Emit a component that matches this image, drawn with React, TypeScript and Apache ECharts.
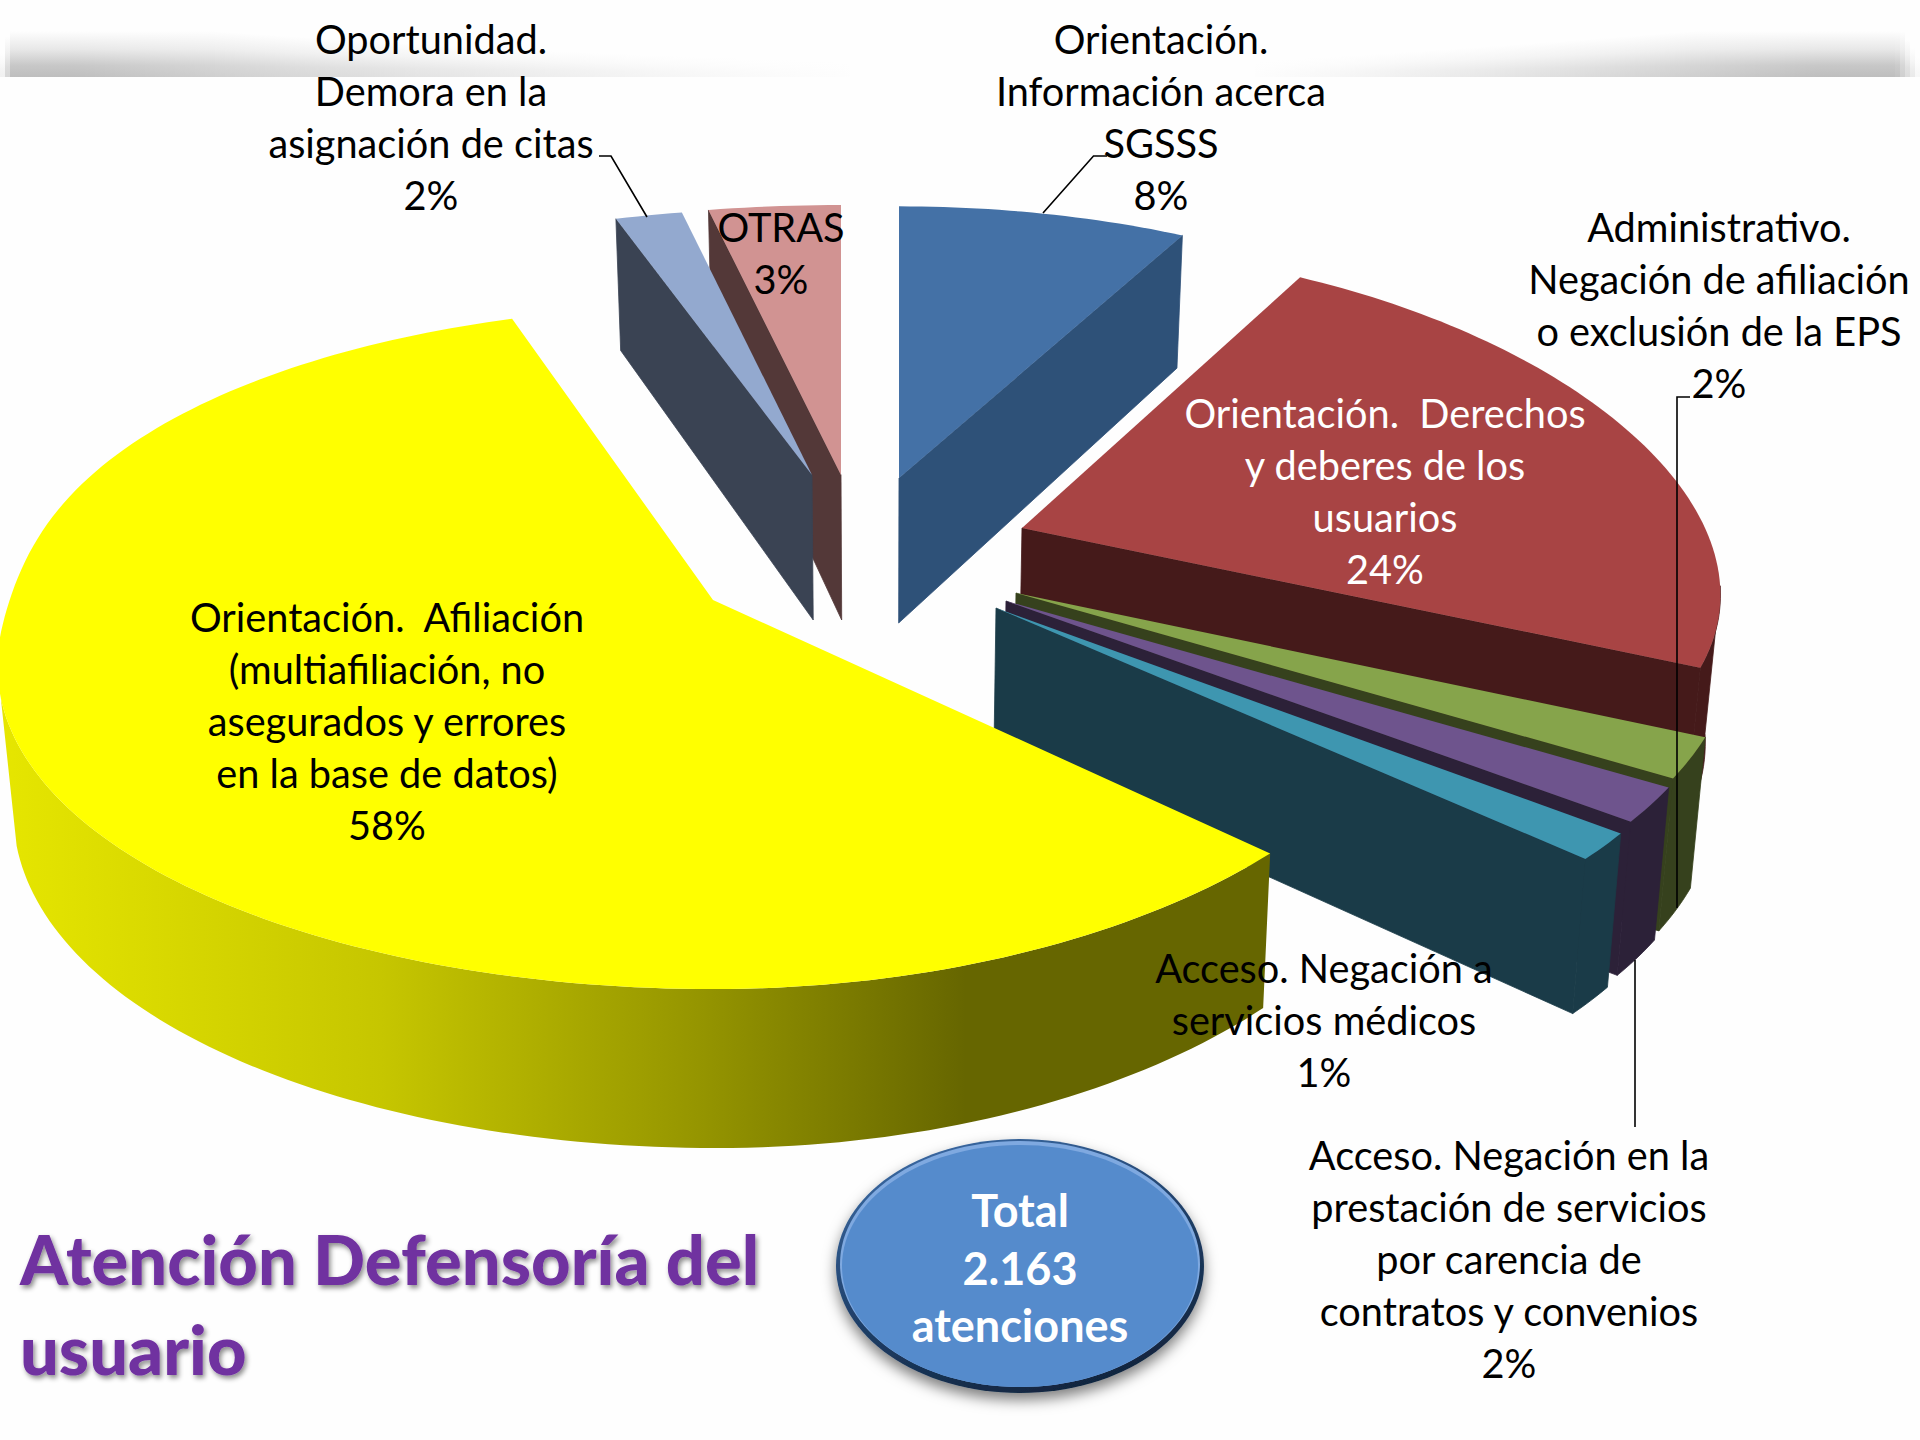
import React, { useEffect, useRef } from "react";
import * as echarts from "echarts";

// ---- data (share of attentions, %) ----
const sliceNames = [
  "Orientación.\nInformación acerca\nSGSSS",
  "Orientación.  Derechos\ny deberes de los\nusuarios",
  "Administrativo.\nNegación de afiliación\no exclusión de la EPS",
  "Acceso. Negación en la\nprestación de servicios\npor carencia de\ncontratos y convenios",
  "Acceso. Negación a\nservicios médicos",
  "Orientación.  Afiliación\n(multiafiliación, no\nasegurados y errores\nen la base de datos)",
  "Oportunidad.\nDemora en la\nasignación de citas",
  "OTRAS",
];
const sliceValues = [8, 24, 2, 1.7, 1.3, 58, 1.7, 3.3];
const titleLines = "Atención Defensoría del\nusuario";
const totalLines = "Total\n2.163\natenciones";

// ---- styling ----
const topColors = ["#4471a6", "#a84444", "#86a44b", "#6e548d", "#3e96b0", "#ffff00", "#93a9cf", "#d19392"];
const wallColors = ["#2e5178", "#451a1a", "#36411d", "#2c2138", "#1a3b48", "#666600", "#3a4353", "#533838"];
const labelColors = ["#000", "#fff", "#000", "#000", "#000", "#000", "#000", "#000"];
const paintOrder = [0, 3, 4, 5, 6, 7, 2, 1];

// ---- layout: the exploded position and perspective of each slice ----
const apexX = [899, 1022, 1016, 1006, 996, 713, 812, 841];
const apexY = [478, 528, 593, 601, 608, 600, 475, 475];
const radiusX = [680, 683, 704, 710, 710, 712, 742, 756];
const radiusY = [320, 313, 313, 315, 322, 335, 315, 318];
const perspX = [0.178, 0.209, 0.178, 0.178, 0.178, 0.1, 0.178, 0.178];
const perspY = [0.178, 0.1075, 0.178, 0.178, 0.178, 0.139, 0.178, 0.178];
const rimBulge = [0, 0, 0, 0, 0, 32, 0, 0];
const labelCX = [1161, 1385, 1719, 1509, 1324, 387, 431, 781];
const labelCY = [116.5, 490.5, 304.5, 1258.5, 1019.5, 720.5, 116.5, 252.5];
const leaders: number[][][] = [
  [[1107, 156], [1093.5, 156], [1043, 213]],
  [],
  [[1690, 397], [1677, 397], [1677, 908]],
  [[1635, 960], [1635, 1127]],
  [],
  [],
  [[599, 156], [611, 156], [647, 217]],
  [],
];
const FONT = "Lato, Carlito, sans-serif";
const LABEL_SIZE = 39.7;
const LINE_H = 52;
const VANISH_X = 880;
const RIM_WALL_FROM = -0.18;

function sliceShapes(i: number, value: number) {
  const total = sliceValues.reduce((a, b) => a + b, 0);
  const before = sliceValues.slice(0, i).reduce((a, b) => a + b, 0);
  const a0 = (before / total) * Math.PI * 2;
  const a1 = ((before + value) / total) * Math.PI * 2;
  const top = (a: number) => {
    const s = Math.sin(a), c = Math.cos(a);
    const fade = c < 0 ? 1 : 1 / (1 + (c / 0.25) * (c / 0.25));
    const bulge = s < 0 ? rimBulge[i] * s * s * fade : 0;
    return [
      apexX[i] + (radiusX[i] * s) / (1 + perspX[i] * c),
      apexY[i] - (radiusY[i] * c) / (1 + perspY[i] * c) + bulge,
      c,
    ];
  };
  const drop = (x: number, y: number, yn: number) => [
    VANISH_X + (x - VANISH_X) * 0.982,
    y + 145 - 14 * yn,
  ];
  const steps = Math.max(6, Math.ceil((a1 - a0) / 0.02));
  const rimTop: number[][] = [];
  const rimBot: number[][] = [];
  const frontTop: number[][] = [];
  const frontBot: number[][] = [];
  for (let n = 0; n <= steps; n++) {
    const p = top(a0 + ((a1 - a0) * n) / steps);
    const b = drop(p[0], p[1], p[2]);
    rimTop.push([p[0], p[1]]);
    rimBot.push(b);
    if (p[2] < RIM_WALL_FROM) {
      frontTop.push([p[0], p[1]]);
      frontBot.push(b);
    }
  }
  const A = [apexX[i], apexY[i]];
  const Ab = drop(A[0], A[1], 0);
  const M = rimTop[Math.floor(steps / 2)];
  // a radial wall shows only when the slice's top lies on its upper side
  const faces = (P: number[]) => {
    const dx = P[0] - A[0], dy = P[1] - A[1];
    return dx * (M[1] - A[1]) - dy * (M[0] - A[0]) < 0 === dx > 0 && dx !== 0;
  };
  return {
    topFace: [A, ...rimTop],
    rimWall: frontTop.length > 1 ? [...frontTop, ...frontBot.slice().reverse()] : null,
    startWall: faces(rimTop[0]) ? [A, rimTop[0], rimBot[0], Ab] : null,
    endWall: faces(rimTop[steps]) ? [A, rimTop[steps], rimBot[steps], Ab] : null,
  };
}

const yellowWall = new echarts.graphic.LinearGradient(0, 0, 1, 0, [
  { offset: 0, color: "#e6e600" },
  { offset: 0.3, color: "#c6c600" },
  { offset: 0.55, color: "#959500" },
  { offset: 0.76, color: "#666600" },
  { offset: 1, color: "#666600" },
]);

function renderSlice(params: any, api: any) {
  const i = params.dataIndex;
  const shapes = sliceShapes(i, api.value(0));
  const z = paintOrder[i] * 10;
  const wall = wallColors[i];
  const poly = (points: number[][] | null, fill: any, z2: number, stroke: string) =>
    points && {
      type: "polygon",
      z2,
      shape: { points },
      style: { fill, stroke, lineWidth: stroke === "none" ? 0 : 0.8 },
    };
  return {
    type: "group",
    children: [
      poly(shapes.startWall, wall, z, wall),
      poly(shapes.endWall, wall, z + 1, wall),
      poly(shapes.rimWall, i === 5 ? yellowWall : wall, z + 2, i === 5 ? "none" : wall),
      poly(shapes.topFace, topColors[i], z + 3, "none"),
    ].filter(Boolean),
  };
}

function renderLabel(params: any, api: any) {
  const i = params.dataIndex;
  const text = `${sliceNames[i]}\n${Math.round(api.value(0))}%`;
  const children: any[] = [
    {
      type: "text",
      z2: 200,
      style: {
        text,
        x: labelCX[i],
        y: labelCY[i],
        fill: labelColors[i],
        font: `${LABEL_SIZE}px ${FONT}`,
        lineHeight: LINE_H,
        align: "center",
        verticalAlign: "middle",
      },
    },
  ];
  if (leaders[i].length) {
    children.push({
      type: "polyline",
      z2: 190,
      shape: { points: leaders[i] },
      style: { fill: "none", stroke: "#000", lineWidth: 1.6 },
    });
  }
  return { type: "group", children };
}

function bandStrips() {
  const out: any[] = [];
  const w = 5;
  for (let x = 0; x < 1920; x += w) {
    const mid = x + w / 2;
    let o = 0;
    if (mid < 900) o = Math.pow(1 - mid / 900, 1.6);
    else if (mid > 1240) o = Math.pow((mid - 1240) / 650, 1.2);
    if (mid < 14) o *= mid / 14;
    if (mid > 1892) o *= Math.max(0, (1920 - mid) / 28);
    if (o < 0.01) continue;
    const y0 = 77 - 46 * Math.min(1, 0.35 + o);
    out.push({
      type: "rect",
      shape: { x, y: y0, width: w, height: 77 - y0 },
      style: {
        opacity: Math.min(1, o * 1.15),
        fill: new echarts.graphic.LinearGradient(0, 0, 0, 1, [
          { offset: 0, color: "rgba(190,190,190,0)" },
          { offset: 0.4, color: "rgba(190,190,190,0.35)" },
          { offset: 0.75, color: "rgba(190,190,190,0.85)" },
          { offset: 1, color: "rgba(190,190,190,1)" },
        ]),
      },
    });
  }
  return out;
}

export default function App() {
  const ref = useRef<HTMLDivElement>(null);
  useEffect(() => {
    const chart = echarts.init(ref.current!, null, { renderer: "svg" });
    chart.setOption({
      animation: false,
      backgroundColor: "#fefefe",
      series: [
        {
          type: "custom",
          coordinateSystem: "none",
          z: 2,
          silent: true,
          data: sliceValues.map((v) => [v]),
          renderItem: renderSlice,
        },
        {
          type: "custom",
          coordinateSystem: "none",
          z: 3,
          silent: true,
          data: sliceValues.map((v) => [v]),
          renderItem: renderLabel,
        },
      ],
      graphic: [
        ...bandStrips(),
        {
          type: "ellipse",
          shape: { cx: 1020, cy: 1266, rx: 184, ry: 127 },
          style: {
            fill: new echarts.graphic.LinearGradient(0.2, 0, 0.7, 1, [
              { offset: 0, color: "#3b6ba5" },
              { offset: 0.5, color: "#20406a" },
              { offset: 1, color: "#10243c" },
            ]),
            shadowBlur: 14,
            shadowColor: "rgba(0,0,0,0.5)",
            shadowOffsetY: 7,
          },
        },
        {
          type: "ellipse",
          shape: { cx: 1020, cy: 1264, rx: 180, ry: 123 },
          style: { fill: "#7fa9e0" },
        },
        {
          type: "ellipse",
          shape: { cx: 1020, cy: 1266, rx: 178, ry: 121 },
          style: { fill: "#558bcc" },
        },
        {
          type: "text",
          style: {
            text: totalLines,
            x: 1020,
            y: 1267.5,
            fill: "#fff",
            font: `bold 45px ${FONT}`,
            lineHeight: 57.5,
            align: "center",
            verticalAlign: "middle",
          },
        },
        {
          type: "text",
          style: {
            text: titleLines,
            x: 20,
            y: 1303,
            fill: "#7030a0",
            font: `900 68.6px ${FONT}`,
            lineHeight: 90,
            align: "left",
            verticalAlign: "middle",
            textShadowColor: "rgba(0,0,0,0.45)",
            textShadowBlur: 5,
            textShadowOffsetX: 2,
            textShadowOffsetY: 3,
          },
        },
      ],
    });
    return () => chart.dispose();
  }, []);
  return (
    <div
      ref={ref}
      style={{ position: "absolute", left: 0, top: 0, width: 1920, height: 1440 }}
    />
  );
}
